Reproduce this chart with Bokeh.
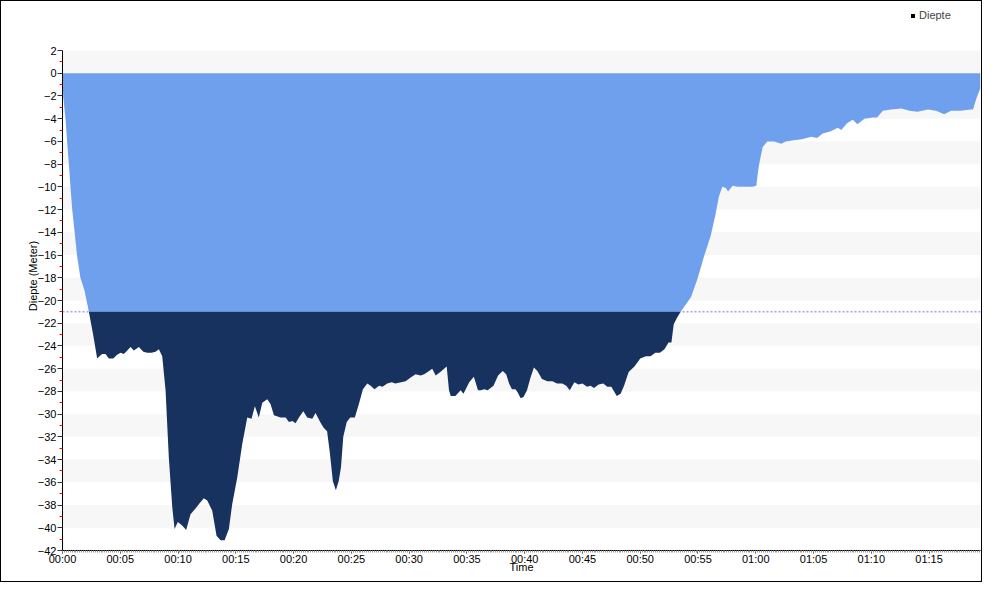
import numpy as np
from bokeh.plotting import figure
from bokeh.models import Range1d, FixedTicker, Span, Legend, LegendItem
from bokeh.embed import file_html
from bokeh.resources import INLINE

# ---- data (minutes, metres) ----
time_min = [
    0.0, 0.06, 0.26, 0.4, 0.55, 0.69, 0.84, 1.05, 1.25, 1.55, 1.9, 2.28, 2.65,
    3.0, 3.2, 3.43, 3.72, 4.01, 4.39, 4.7, 5.02, 5.31, 5.6, 5.89, 6.17, 6.61,
    7.0, 7.33, 7.7, 8.05, 8.34, 8.63, 8.92, 9.2, 9.5, 9.7, 9.98, 10.36, 10.7,
    11.08, 11.51, 11.9, 12.23, 12.53, 12.96, 13.33, 13.68, 14.03, 14.4, 14.69,
    15.12, 15.56, 15.99, 16.36, 16.65, 16.99, 17.29, 17.72, 18.0, 18.3, 18.87,
    19.31, 19.6, 19.9, 20.17, 20.46, 20.84, 21.18, 21.62, 21.9, 22.3, 22.6,
    22.9, 23.15, 23.4, 23.66, 23.9, 24.1, 24.3, 24.6, 24.9, 25.3, 25.65, 26.0,
    26.38, 26.67, 27.0, 27.4, 27.7, 28.1, 28.5, 28.8, 29.3, 29.7, 30.1, 30.56,
    31.0, 31.3, 31.6, 32.0, 32.3, 32.7, 33.25, 33.45, 33.6, 34.0, 34.46, 34.7,
    35.2, 35.6, 35.96, 36.2, 36.5, 36.8, 37.3, 37.7, 38.1, 38.4, 38.65, 38.9,
    39.2, 39.4, 39.65, 39.9, 40.2, 40.5, 40.8, 41.1, 41.5, 41.96, 42.4, 42.8,
    43.25, 43.6, 43.9, 44.3, 44.65, 45.0, 45.4, 45.7, 46.0, 46.4, 46.8, 47.15,
    47.5, 47.97, 48.3, 48.6, 49.0, 49.5, 50.0, 50.5, 50.9, 51.3, 51.7, 52.1,
    52.45, 52.7, 52.9, 53.2, 53.5, 54.4, 54.95, 55.5, 56.1, 56.5, 56.8, 57.1,
    57.4, 57.6, 58.0, 58.4, 58.8, 59.3, 59.7, 60.05, 60.2, 60.35, 60.6, 61.0,
    61.6, 62.2, 62.6, 63.3, 64.0, 64.8, 65.3, 65.8, 66.5, 67.1, 67.4, 67.9,
    68.4, 68.8, 69.4, 70.1, 70.5, 71.0, 71.7, 72.6, 73.3, 74.0, 74.9, 75.6,
    76.3, 76.9, 77.7, 78.6, 78.8, 79.1, 79.45,
]
depth_m = [
    0.0, -2.0, -4.0, -6.0, -8.0, -10.0, -12.0, -14.0, -16.0, -18.0, -19.1, -21.0, -23.0,
    -25.1, -24.9, -24.7, -24.7, -25.1, -25.1, -24.8, -24.6, -24.7, -24.4, -24.1, -24.4, -24.1,
    -24.5, -24.6, -24.6, -24.5, -24.3, -24.9, -27.9, -33.8, -38.2, -40.1, -39.5, -39.8, -40.2,
    -38.8, -38.3, -37.8, -37.4, -37.6, -38.5, -40.7, -41.1, -41.1, -40.1, -37.9,
    -35.6, -32.6, -30.3, -30.4, -29.3, -30.3, -29.0, -28.7, -29.1, -30.1, -30.3,
    -30.3, -30.7, -30.6, -30.8, -30.3, -29.75, -30.3, -30.4, -29.9, -30.7, -31.2,
    -31.5, -33.5, -35.9, -36.7, -35.9, -34.7, -32.0, -30.7, -30.3, -30.3, -29.1, -27.8,
    -27.3, -27.5, -27.8, -27.5, -27.6, -27.3, -27.2, -27.3, -27.2, -27.1, -26.8, -26.5,
    -26.6, -26.5, -26.3, -26.0, -26.6, -26.3, -25.8, -27.9, -28.4, -28.4, -27.9, -28.2,
    -27.2, -26.7, -27.9, -27.9, -27.8, -27.9, -27.5, -26.6, -26.2, -26.5, -27.3, -27.8,
    -27.8, -28.1, -28.6, -28.5, -27.9, -26.8, -25.9, -26.2, -26.9, -27.1, -27.1, -27.3,
    -27.3, -27.5, -27.9, -27.2, -27.4, -27.3, -27.6, -27.5, -27.7, -27.4, -27.3, -27.6,
    -27.6, -28.4, -28.2, -27.5, -26.3, -25.8, -25.1, -24.9, -24.9, -24.6, -24.6, -24.3,
    -23.7, -23.7, -22.1, -21.5, -21.0, -19.7, -18.1, -16.2, -14.3, -12.5, -10.9, -10.0,
    -10.1, -10.4, -9.9, -10.0, -10.0, -10.0, -10.0, -9.9, -8.6, -7.7, -6.5, -6.0,
    -6.0, -6.2, -6.0, -5.9, -5.8, -5.6, -5.7, -5.3, -5.1, -4.8, -5.0, -4.4,
    -4.1, -4.5, -4.0, -3.9, -3.9, -3.3, -3.2, -3.1, -3.3, -3.4, -3.2, -3.3,
    -3.6, -3.3, -3.3, -3.2, -3.2, -2.2, -1.3,
]
threshold_depth = -21.0
x_tick_values = [0, 5, 10, 15, 20, 25, 30, 35, 40, 45, 50, 55, 60, 65, 70, 75]
x_tick_labels = ["00:00", "00:05", "00:10", "00:15", "00:20", "00:25", "00:30", "00:35",
                 "00:40", "00:45", "00:50", "00:55", "01:00", "01:05", "01:10", "01:15"]
y_tick_values = list(range(-42, 3, 2))
series_name = "Diepte"
x_title = "Time"
y_title = "Diepte (Meter)"

# ---- split the profile at the threshold ----
t = np.array(time_min, dtype=float)
d = np.array(depth_m, dtype=float)
tt, dd = [t[0]], [d[0]]
for i in range(1, len(t)):
    a, b = d[i - 1] - threshold_depth, d[i] - threshold_depth
    if a * b < 0:
        tc = t[i - 1] + (t[i] - t[i - 1]) * a / (a - b)
        tt.append(tc)
        dd.append(threshold_depth)
    tt.append(t[i])
    dd.append(d[i])
tt = np.array(tt)
dd = np.array(dd)
upper = np.maximum(dd, threshold_depth)
lower = np.minimum(dd, threshold_depth)

FONT = "Liberation Sans"

# frame reaches the top edge so the legend above the axis area stays visible;
# the axis itself is bounded to the -42 .. 2 scale
y_lo, y_hi = -42, 2
px_per_unit = 500 / (y_hi - y_lo)
top_pad_px = 49

p = figure(width=982, height=582, output_backend="svg", toolbar_location=None,
           x_range=Range1d(0, t[-1]),
           y_range=Range1d(y_lo, y_hi + top_pad_px / px_per_unit),
           min_border_left=61, min_border_right=3, min_border_top=0, min_border_bottom=33)
p.styles = {"border": "1px solid black"}
p.outline_line_color = None
p.background_fill_color = "white"
p.border_fill_color = "white"

# grid bands
yt = FixedTicker(ticks=y_tick_values, minor_ticks=list(range(-41, 2, 2)))
p.xgrid.visible = False
p.ygrid.ticker = yt
p.ygrid.grid_line_color = None
p.ygrid.band_fill_color = "#f7f7f7"
p.ygrid.band_fill_alpha = 1.0

p.add_layout(Span(location=threshold_depth, dimension="width", line_color="#7070f0",
                  line_dash="2 2", line_width=1, level="underlay"))

p.varea(x=tt, y1=0, y2=upper, fill_color="#6fa0ed")
p.varea(x=tt, y1=threshold_depth, y2=lower, fill_color="#17325f")
# legend key (zero-height area, draws nothing in the plot)
key = p.varea(x=[0.0, 0.0], y1=[0.0, 0.0], y2=[0.0, 0.0], fill_color="black")

# axes
xa = p.xaxis[0]
xa.ticker = FixedTicker(ticks=x_tick_values, minor_ticks=list(np.arange(0, t[-1], 1 / 6)))
xa.major_label_overrides = dict(zip(x_tick_values, x_tick_labels))
xa.axis_label = x_title
xa.axis_line_color = "black"
xa.major_tick_line_color = "#333333"
xa.major_tick_out = 3
xa.major_tick_in = 0
xa.minor_tick_line_color = "#999999"
xa.minor_tick_out = 2
xa.minor_tick_in = 0
xa.major_label_standoff = -1
xa.axis_label_standoff = -7

ya = p.yaxis[0]
ya.ticker = yt
ya.bounds = (y_lo, y_hi)
ya.axis_label = y_title
ya.axis_line_color = "black"
ya.major_tick_line_color = "#333333"
ya.major_tick_out = 5
ya.major_tick_in = 0
ya.minor_tick_line_color = "red"
ya.minor_tick_out = 3
ya.minor_tick_in = 0
ya.major_label_standoff = 1
ya.axis_label_standoff = -4

for ax in (xa, ya):
    ax.major_label_text_font = FONT
    ax.major_label_text_font_size = "11px"
    ax.major_label_text_color = "black"
    ax.axis_label_text_font = FONT
    ax.axis_label_text_font_size = "11px"
    ax.axis_label_text_font_style = "normal"
    ax.axis_label_text_color = "black"

legend = Legend(items=[LegendItem(label=series_name, renderers=[key])],
                location=(848, 529), padding=0, margin=0, spacing=0,
                border_line_color=None, background_fill_alpha=0,
                glyph_width=5, glyph_height=5, label_standoff=4, label_height=12,
                label_text_font=FONT, label_text_font_size="11px")
p.add_layout(legend, "center")

open("out.html", "w").write(file_html(p, INLINE))
